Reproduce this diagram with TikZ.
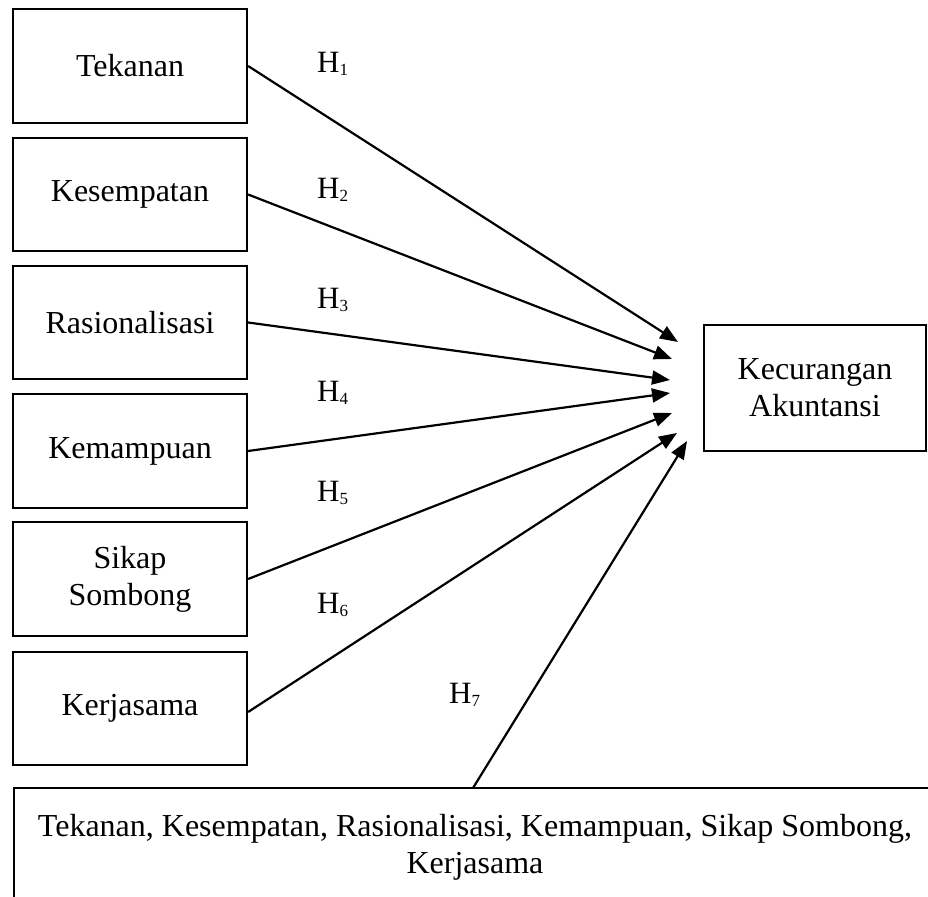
\documentclass[tikz,border=0pt]{standalone}
\usepackage{fontspec}
\setmainfont{Liberation Serif}
\usetikzlibrary{arrows.meta}
\newcommand{\hlab}[1]{H\raisebox{-3pt}{\fontsize{17}{17}\selectfont #1}}
\begin{document}
\begin{tikzpicture}[x=1pt,y=-1pt,
  box/.style={draw,line width=2.2pt,inner sep=0pt,align=center,
    font=\fontsize{32}{37}\selectfont},
  leftbox/.style={box,minimum width=234pt},
  hl/.style={anchor=base west,inner sep=0pt,font=\fontsize{31}{36}\selectfont},
  conn/.style={line width=2.2pt,-{Triangle[length=18pt,width=14pt]}}]
\useasboundingbox (0,0) rectangle (928,896);
\clip (0,0) rectangle (928,896);
\node[leftbox,minimum height=114pt] (tek) at (130,66) {Tekanan};
\node[leftbox,minimum height=113pt] (kes) at (130,194.5) {Kesempatan};
\node[leftbox,minimum height=113pt] (ras) at (130,322.5) {Rasionalisasi};
\node[leftbox,minimum height=114pt] (kem) at (130,451) {Kemampuan};
\node[leftbox,minimum height=114pt] (sik) at (130,579) {Sikap\\Sombong};
\node[leftbox,minimum height=113pt] (ker) at (130,708.5) {Kerjasama};
\node[box,minimum width=222pt,minimum height=126pt] (ka) at (815,388) {Kecurangan\\Akuntansi};
\node[box,minimum width=922pt,minimum height=118pt] (all) at (475,847)
  {Tekanan, Kesempatan, Rasionalisasi, Kemampuan, Sikap Sombong,\\Kerjasama};
\coordinate (t1) at (678,342);
\coordinate (t2) at (672,359);
\coordinate (t3) at (670,380);
\coordinate (t4) at (670,393);
\coordinate (t5) at (672,413);
\coordinate (t6) at (677,433);
\coordinate (t7) at (687,441);
\coordinate (s7) at (473,788);
\draw[conn] (tek.east) -- (t1);
\draw[conn] (kes.east) -- (t2);
\draw[conn] (ras.east) -- (t3);
\draw[conn] (kem.east) -- (t4);
\draw[conn] (sik.east) -- (t5);
\draw[conn] ([yshift=-3.5pt]ker.east) -- (t6);
\draw[conn] (s7) -- (t7);
\node[hl] (h1) at (317,73) {\hlab{1}};
\node[hl] (h2) at (317,198) {\hlab{2}};
\node[hl] (h3) at (317,308) {\hlab{3}};
\node[hl] (h4) at (317,401) {\hlab{4}};
\node[hl] (h5) at (317,501) {\hlab{5}};
\node[hl] (h6) at (317,613) {\hlab{6}};
\node[hl] (h7) at (449,703) {\hlab{7}};
\end{tikzpicture}
\end{document}
